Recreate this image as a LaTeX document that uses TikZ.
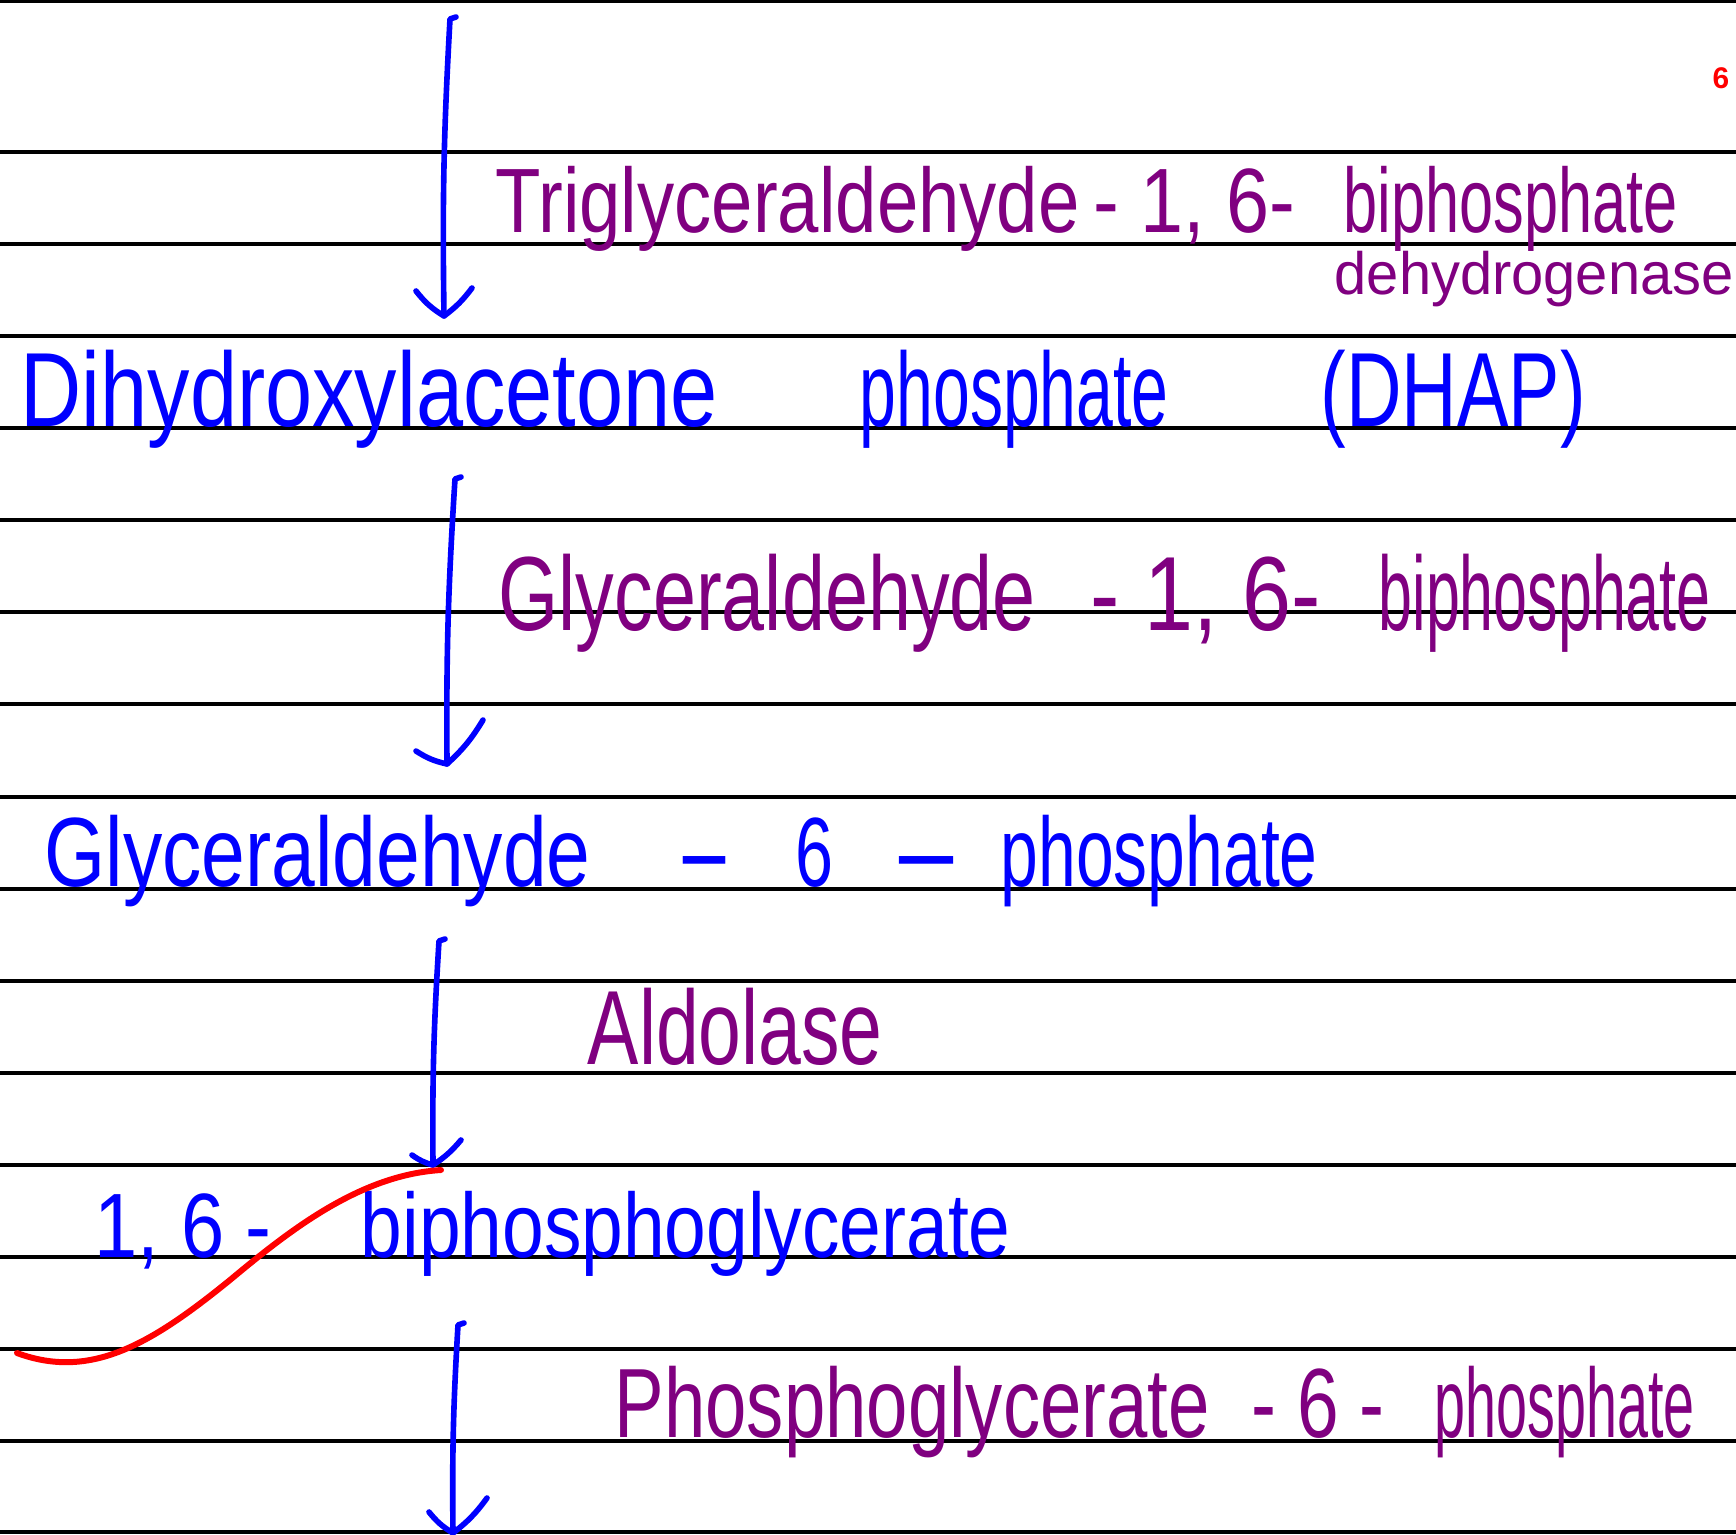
\documentclass[tikz,border=0pt]{standalone}
\usepackage{fontspec}
\setsansfont{Liberation Sans}
\usepackage{graphicx}
\usepackage{tikz}
\usetikzlibrary{calc}
\definecolor{penblue}{RGB}{0,0,255}
\definecolor{penpurple}{RGB}{128,0,128}
\definecolor{penred}{RGB}{255,0,0}
\newcommand{\hw}[2]{\resizebox{#1}{\height}{#2}}

\begin{document}
\begin{tikzpicture}[x=0.1mm,y=-0.1mm,
  rule/.style={black,line width=0.9pt},
  pen/.style={penblue,line width=1.6pt,line cap=round,line join=round},
  blutxt/.style={penblue,anchor=base west,inner sep=0pt,font=\sffamily\fontsize{#1}{#1}\selectfont},
  purtxt/.style={penpurple,anchor=base west,inner sep=0pt,font=\sffamily\fontsize{#1}{#1}\selectfont}]
\useasboundingbox (0,0) rectangle (1736,1534);
\fill[white] (0,0) rectangle (1736,1534);
\foreach \y in {1,152,244,336,428,520,612,704,797,889,981,1073,1165,1257,1349,1441,1532}{\draw[rule] (0,\y)--(1736,\y);}
% arrows
\foreach \n/\xt/\yt/\xb/\yb/\xl/\yl/\xr/\yr in {1/450/19/444/316/416/291/472/288,2/455/479/447/764/416/751/483/720,3/439/941/433/1165/412/1155/461/1140,4/458/1325/453/1533/429/1512/487/1498}{
  \coordinate (top\n) at (\xt,\yt);
  \coordinate (tip\n) at (\xb,\yb);
  \coordinate (lft\n) at (\xl,\yl);
  \coordinate (rgt\n) at (\xr,\yr);
  \draw[pen] ($(top\n)+(6,-2)$)--(top\n) to[bend right=2] (tip\n);
  \draw[pen] (lft\n) to[bend right=10] (tip\n) to[bend right=8] (rgt\n);
}
% compounds
\node[blutxt=30] (dhap1) at (20,426) {\hw{6.97cm}{Dihydroxylacetone}};
\node[blutxt=30] (dhap2) at (859,426) {\hw{3.09cm}{phosphate}};
\node[blutxt=30] (dhap3) at (1320,426) {\hw{2.65cm}{(DHAP)}};
\node[blutxt=28] (gap1) at (44,886) {\hw{5.46cm}{Glyceraldehyde}};
\node[blutxt=28] (gap2) at (675,886) {\hw{0.58cm}{-}};
\node[blutxt=28] (gap3) at (795,886) {\hw{0.38cm}{6}};
\node[blutxt=28] (gap4) at (889,886) {\hw{0.74cm}{-}};
\node[blutxt=28] (gap5) at (1000,886) {\hw{3.17cm}{phosphate}};
\node[blutxt=26] (bpg1) at (94,1257) {\hw{1.77cm}{1, 6 -}};
\node[blutxt=26] (bpg2) at (360,1257) {\hw{6.50cm}{biphosphoglycerate}};
% enzymes
\node[purtxt=26] (enz1a) at (495,232) {\hw{5.84cm}{Triglyceraldehyde}};
\node[purtxt=26] (enz1b) at (1093,232) {\hw{2.02cm}{- 1, 6-}};
\node[purtxt=26] (enz1c) at (1343,232) {\hw{3.34cm}{biphosphate}};
\node[purtxt=17] (enz1d) at (1334,294) {\hw{3.99cm}{dehydrogenase}};
\node[purtxt=30] (enz2a) at (498,630) {\hw{5.37cm}{Glyceraldehyde}};
\node[purtxt=30] (enz2b) at (1090,630) {\hw{2.30cm}{- 1, 6-}};
\node[purtxt=30] (enz2c) at (1378,630) {\hw{3.32cm}{biphosphate}};
\node[purtxt=30] (enz3) at (587,1064) {\hw{2.95cm}{Aldolase}};
\node[purtxt=28] (enz4a) at (614,1437) {\hw{5.95cm}{Phosphoglycerate}};
\node[purtxt=28] (enz4b) at (1251,1437) {\hw{1.33cm}{- 6 -}};
\node[purtxt=28] (enz4c) at (1434,1437) {\hw{2.60cm}{phosphate}};
% crossing out and page number
\draw[penred,line width=1.7pt,line cap=round] (441,1170) .. controls (360,1175) and (290,1230) .. (230,1280) .. controls (150,1345) and (90,1380) .. (17,1353);
\node[penred,font=\sffamily\bfseries\fontsize{8.5}{8.5}\selectfont,inner sep=0pt] (page) at (1721,78) {6};
\end{tikzpicture}
\end{document}
